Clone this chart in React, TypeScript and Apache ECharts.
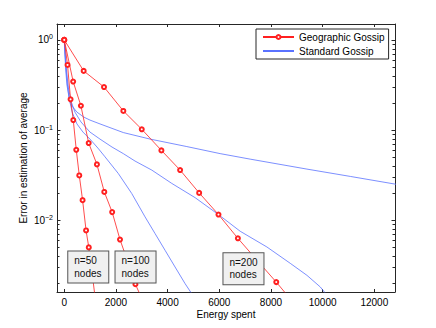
import React, { useEffect, useRef } from 'react';
import * as echarts from 'echarts';

// ---------- axis settings ----------
const X_MIN = -280;
const X_MAX = 12800;
const Y_MIN = 0.0016;
const Y_MAX = 1.5;
const xTickValues = [0, 2000, 4000, 6000, 8000, 10000, 12000];
const minorTickValues: number[] = [];
for (const d of [0.001, 0.01, 0.1]) for (let m = 2; m <= 9; m++) minorTickValues.push(+(m * d).toPrecision(3));

const legendNames = ['Geographic Gossip', 'Standard Gossip'];

// ---------- Geographic Gossip (red, markers) ----------
const geoN50X = [0, 128, 245, 350, 465, 582, 710, 845, 950, 1065, 1200];
const geoN50Y = [1, 0.527, 0.219, 0.129, 0.0604, 0.0314, 0.0167, 0.0077, 0.005, 0.0028, 0.00135];

const geoN100X = [0, 345, 645, 946, 1265, 1550, 1855, 2158, 2455, 2755, 3055];
const geoN100Y = [1, 0.345, 0.186, 0.0717, 0.0416, 0.0206, 0.0123, 0.0061, 0.0035, 0.00195, 0.00125];

const geoN200X = [0, 752, 1539, 2287, 3000, 3760, 4484, 5221, 5969, 6720, 7460, 8205, 8955];
const geoN200Y = [1, 0.453, 0.3, 0.163, 0.102, 0.0595, 0.036, 0.0201, 0.01156, 0.0063, 0.0036, 0.00206, 0.00114];

// ---------- Standard Gossip (blue lines) ----------
const stdN200X = [0, 27, 58, 105, 182, 298, 492, 763, 996, 1383, 2286, 3321, 4743, 6033, 7195, 9392, 11072, 13000];
const stdN200Y = [1, 0.681, 0.464, 0.316, 0.233, 0.185, 0.158, 0.139, 0.129, 0.117, 0.0938, 0.0794, 0.0656, 0.0548, 0.0476, 0.0369, 0.0306, 0.0246];

const stdN100X = [0, 46, 97, 163, 260, 415, 647, 996, 1383, 1848, 2286, 2740, 3387, 4162, 5064, 5967, 6808, 7843, 8745, 9392, 9908, 10150];
const stdN100Y = [1, 0.647, 0.43, 0.293, 0.21, 0.158, 0.123, 0.095, 0.0794, 0.0648, 0.0548, 0.0453, 0.036, 0.0256, 0.0178, 0.01156, 0.00755, 0.00505, 0.00333, 0.00245, 0.00182, 0.0015];

const stdN50X = [0, 35, 74, 124, 201, 318, 492, 725, 996, 1306, 1577, 2092, 2612, 3127, 3514, 3902, 4289, 4677, 4990];
const stdN50Y = [1, 0.681, 0.464, 0.316, 0.215, 0.155, 0.117, 0.095, 0.0794, 0.063, 0.0505, 0.033, 0.0198, 0.0109, 0.00712, 0.00464, 0.00303, 0.00198, 0.00145];

// ---------- annotations ----------
const annotText = ['n=50\nnodes', 'n=100\nnodes', 'n=200\nnodes'];
const annotX = [930, 2759, 6936];
const annotY = [0.00302, 0.00302, 0.0029];

const FONT = '"Liberation Sans", Arial, Helvetica, sans-serif';
const AXIS = '#262626';
const RED = '#ff2020';
const BLUE = '#5a72ff';

const zip = (xs: number[], ys: number[]) => xs.map((x, i) => [x, ys[i]]);

function redSeries(xs: number[], ys: number[]) {
  return {
    type: 'line',
    name: legendNames[0],
    data: zip(xs, ys),
    symbol: 'emptyCircle',
    symbolSize: 4,
    showAllSymbol: true,
    lineStyle: { color: RED, width: 0.8 },
    itemStyle: { color: RED, borderColor: RED, borderWidth: 0.8 },
    clip: true,
    z: 3,
  };
}

function blueSeries(xs: number[], ys: number[]) {
  return {
    type: 'line',
    name: legendNames[1],
    data: zip(xs, ys),
    symbol: 'none',
    showSymbol: false,
    lineStyle: { color: BLUE, width: 0.8 },
    itemStyle: { color: BLUE },
    clip: true,
    z: 2,
  };
}

function logLabel(value: number) {
  const l = Math.log10(value);
  const e = Math.round(l);
  if (Math.abs(l - e) > 1e-6) return '';
  return `{b|10}{s|${e === 0 ? '0' : '\u2212' + -e}}`;
}

export default function App() {
  const ref = useRef<HTMLDivElement>(null);
  useEffect(() => {
    const chart = echarts.init(ref.current!, null, { renderer: 'svg' });
    const axisLine = { show: true, onZero: false, lineStyle: { color: AXIS, width: 1 } };
    const option: any = {
      animation: false,
      backgroundColor: '#fff',
      textStyle: { fontFamily: FONT },
      grid: { left: 57, top: 24, right: 41, bottom: 36, containLabel: false, outerBoundsMode: 'none' },
      legend: {
        data: [
          { name: legendNames[0] },
          { name: legendNames[1], itemStyle: { opacity: 0 } },
        ],
        orient: 'vertical',
        left: 256,
        top: 29,
        padding: [3, 4, 3, 6],
        itemWidth: 31,
        itemHeight: 5,
        itemGap: 4,
        borderColor: AXIS,
        borderWidth: 1,
        backgroundColor: '#fff',
        textStyle: { fontSize: 10, fontFamily: FONT, color: '#000' },
      },
      xAxis: [
        {
          type: 'value',
          min: X_MIN,
          max: X_MAX,
          position: 'bottom',
          axisLine,
          splitLine: { show: false },
          axisTick: { show: true, inside: true, length: 3, customValues: xTickValues, lineStyle: { color: AXIS } },
          axisLabel: {
            customValues: xTickValues,
            formatter: (v: number) => String(v),
            fontSize: 10,
            fontFamily: FONT,
            color: '#000',
            margin: 5,
          },
          name: 'Energy spent',
          nameLocation: 'middle',
          nameGap: 17,
          nameMoveOverlap: false,
          nameTextStyle: { fontSize: 10, fontFamily: FONT, color: '#000' },
        },
        {
          type: 'value',
          min: X_MIN,
          max: X_MAX,
          position: 'top',
          axisLine,
          splitLine: { show: false },
          axisTick: { show: true, inside: true, length: 3, customValues: xTickValues, lineStyle: { color: AXIS } },
          axisLabel: { show: false },
        },
      ],
      yAxis: [
        {
          type: 'log',
          logBase: 10,
          min: Y_MIN,
          max: Y_MAX,
          position: 'left',
          axisLine,
          splitLine: { show: false },
          axisTick: { show: true, inside: true, length: 3.5, lineStyle: { color: AXIS } },
          axisLabel: {
            showMinLabel: false,
            showMaxLabel: false,
            margin: 4,
            formatter: logLabel,
            rich: {
              b: { fontSize: 10, fontFamily: FONT, color: '#000' },
              s: { fontSize: 7, fontFamily: FONT, color: '#000', padding: [0, 0, 6, 0] },
            },
          },
          name: 'Error in estimation of average',
          nameLocation: 'middle',
          nameRotate: 90,
          nameGap: 29,
          nameMoveOverlap: false,
          nameTextStyle: { fontSize: 10, fontFamily: FONT, color: '#000' },
        },
        {
          type: 'log',
          logBase: 10,
          min: Y_MIN,
          max: Y_MAX,
          position: 'right',
          axisLine,
          splitLine: { show: false },
          axisTick: { show: true, inside: true, length: 3.5, lineStyle: { color: AXIS } },
          axisLabel: { show: false },
        },
      ],
      series: [
        redSeries(geoN50X, geoN50Y),
        redSeries(geoN100X, geoN100Y),
        redSeries(geoN200X, geoN200Y),
        blueSeries(stdN50X, stdN50Y),
        blueSeries(stdN100X, stdN100Y),
        blueSeries(stdN200X, stdN200Y),
      ],
    };
    chart.setOption(option);

    // minor log ticks and annotation boxes, placed through the chart's own scales
    const left = chart.convertToPixel({ xAxisIndex: 0 }, X_MIN) as number;
    const right = chart.convertToPixel({ xAxisIndex: 0 }, X_MAX) as number;
    const graphics: any[] = [];
    minorTickValues.forEach((v) => {
      const y = Math.round(chart.convertToPixel({ yAxisIndex: 0 }, v) as number) + 0.5;
      graphics.push(
        { type: 'line', silent: true, z: 50, shape: { x1: left, y1: y, x2: left + 2.5, y2: y }, style: { stroke: AXIS, lineWidth: 1 } },
        { type: 'line', silent: true, z: 50, shape: { x1: right - 2.5, y1: y, x2: right, y2: y }, style: { stroke: AXIS, lineWidth: 1 } },
      );
    });
    annotText.forEach((t, i) => {
      const p = chart.convertToPixel({ xAxisIndex: 0, yAxisIndex: 0 }, [annotX[i], annotY[i]]) as number[];
      graphics.push({
        type: 'text',
        silent: true,
        z: 100,
        x: p[0],
        y: p[1],
        style: {
          text: t.split('\n').map((s) => `{t|${s}}`).join('\n'),
          align: 'center',
          verticalAlign: 'middle',
          backgroundColor: '#f0f0f0',
          borderColor: '#555',
          borderWidth: 1,
          padding: [3, 6, 3, 6],
          rich: {
            t: { fontSize: 10, fontFamily: FONT, fill: '#111', width: 28, align: 'left', lineHeight: 12.5 },
          },
        },
      });
    });
    chart.setOption({ graphic: graphics });
    return () => chart.dispose();
  }, []);
  return <div ref={ref} style={{ position: 'fixed', left: 0, top: 0, width: 436, height: 328, background: '#fff' }} />;
}
